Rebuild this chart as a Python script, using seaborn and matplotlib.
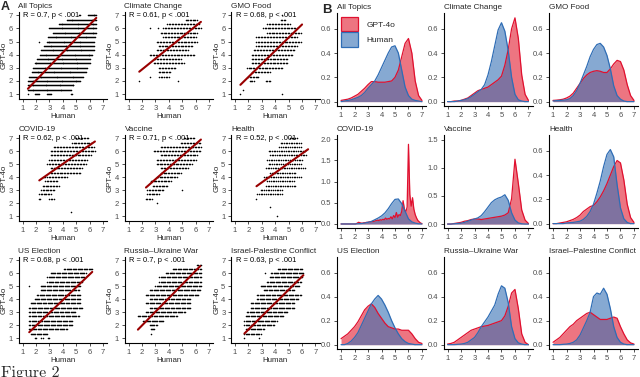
import numpy as np
import pandas as pd
import matplotlib
matplotlib.use("Agg")
import matplotlib.pyplot as plt
import matplotlib.colors as mcolors
from matplotlib.patches import Patch
import seaborn as sns

sns.set_theme(style="ticks")
plt.rcParams["font.family"] = ["Liberation Sans", "DejaVu Sans"]

# ---------------------------------------------------------------- data
scatter_titles = ["All Topics", "Climate Change", "GMO Food", "COVID-19", "Vaccine",
                  "Health", "US Election", "Russia\u2013Ukraine War", "Israel-Palestine Conflict"]
density_titles = ["All Topics", "Climate Change", "GMO Food", "COVID-19", "Vaccine",
                  "Health", "US Election", "Russia\u2013Ukraine War", "Israel\u2013Palestine Conflict"]
r_labels = ["R = 0.7, p < .001", "R = 0.61, p < .001", "R = 0.68, p < .001",
            "R = 0.62, p < .001", "R = 0.71, p < .001", "R = 0.52, p < .001",
            "R = 0.68, p < .001", "R = 0.7, p < .001", "R = 0.63, p < .001"]

# GPT-4o score levels (rows of dots), top to bottom
gpt_levels = [7.0, 6.67, 6.33, 6.0, 5.67, 5.33, 5.0, 4.67, 4.33, 4.0,
              3.67, 3.33, 3.0, 2.67, 2.33, 2.0, 1.67, 1.33, 1.0]

# Human-score runs of dots on each GPT-4o row (lo, hi)
rows_all = [[(5.2, 5.3), (5.9, 6.5)], [(4.3, 6.5)], [(3.7, 6.5)], [(3.0, 6.5)], [(3.3, 6.5)],
            [(2.9, 6.4)], [(2.2, 2.2), (2.8, 6.3)], [(2.6, 6.3)], [(2.4, 6.3)], [(2.3, 6.2)],
            [(2.1, 6.0)], [(1.9, 6.0)], [(1.8, 5.8)], [(1.7, 5.7)], [(1.5, 5.5)],
            [(1.4, 5.3)], [(1.4, 4.8)], [(1.4, 4.6)], [(1.4, 1.4), (1.9, 2.2), (2.8, 3.1), (4.6, 4.7)]]
rows_climate = [[], [(5.25, 6.1)], [(3.9, 6.25)], [(2.6, 2.6), (3.2, 3.2), (3.6, 6.4)], [(3.4, 6.1)],
                [(3.6, 6.0)], [(3.1, 6.1)], [(3.25, 5.75)], [(3.1, 5.4)], [(2.6, 5.9)],
                [(2.9, 4.9)], [(2.9, 5.1)], [(3.25, 4.5)], [(3.25, 4.1)], [(2.6, 2.6), (3.3, 4.0)],
                [(1.8, 1.8), (4.7, 4.7)], [], [], []]
rows_gmo = [[(4.5, 4.5)], [(4.4, 4.75)], [(3.4, 5.1)], [(3.1, 5.6)], [(3.4, 5.9)],
            [(2.6, 5.6)], [(2.6, 5.9)], [(2.6, 5.6)], [(2.4, 5.4)], [(2.25, 5.25)],
            [(2.25, 4.9)], [(2.25, 4.9)], [(1.9, 4.5)], [(2.25, 3.6)], [(2.0, 2.75)],
            [(2.1, 2.4), (3.3, 3.6)], [], [(1.6, 1.6)], [(1.4, 1.4), (4.5, 4.5)]]
rows_covid = [[(5.0, 5.9)], [(4.7, 6.1)], [(3.35, 6.3)], [(3.1, 6.4)], [(3.1, 6.1)],
              [(3.0, 5.8)], [(2.85, 5.7)], [(3.1, 5.4)], [(3.1, 5.3)], [(2.6, 4.3)],
              [(2.7, 3.6)], [(2.5, 3.7)], [(2.4, 3.35)], [(2.25, 3.1)], [(2.2, 2.3), (3.0, 3.35)],
              [], [], [(4.65, 4.65)], []]
rows_vaccine = [[(5.1, 5.9)], [(4.9, 6.35)], [(3.4, 6.4)], [(2.9, 6.35)], [(3.4, 6.1)],
                [(3.1, 6.0)], [(3.1, 5.7)], [(3.4, 5.4)], [(3.4, 4.9)], [(3.1, 4.6)],
                [(2.65, 4.15)], [(2.8, 3.9)], [(2.4, 3.6), (5.0, 5.0)], [(2.4, 3.25)], [(2.3, 2.75)],
                [(3.1, 3.1)], [], [], []]
rows_health = [[(5.1, 5.6)], [(4.4, 5.9)], [(4.3, 5.9)], [(3.5, 6.2)], [(3.6, 6.3)],
               [(3.4, 6.0)], [(3.5, 5.9)], [(3.3, 6.2)], [(3.6, 5.5)], [(3.15, 5.9)],
               [(3.4, 5.4)], [(3.3, 5.5)], [(2.9, 4.5)], [(2.65, 4.5)], [(2.6, 2.6)],
               [], [(3.6, 3.6)], [], [(4.1, 4.1)]]
rows_us = [[], [], [(4.1, 6.2)], [(3.1, 5.7)], [(2.85, 5.6)],
           [(2.85, 5.4)], [(1.5, 1.5), (2.35, 5.3)], [(2.35, 5.2)], [(2.1, 5.3)], [(1.9, 5.3)],
           [(1.6, 5.3)], [(1.5, 5.45)], [(1.5, 4.95)], [(1.5, 5.2)], [(1.5, 4.7)],
           [(1.5, 4.7)], [(1.5, 4.3)], [(1.6, 2.85)], [(1.9, 2.0), (2.4, 2.5), (2.9, 3.0)]]
rows_russia = [[], [(6.1, 6.4)], [(4.3, 6.4)], [(3.8, 6.4)], [(3.3, 6.4)],
               [(3.3, 6.4)], [(3.0, 6.4)], [(2.6, 6.35)], [(2.3, 6.2)], [(2.6, 5.6)],
               [(2.3, 5.6)], [(2.6, 5.6)], [(2.3, 5.2)], [(1.7, 4.6)], [(2.1, 3.6)],
               [(2.6, 3.1)], [(2.65, 2.9)], [(2.65, 2.65)], []]
rows_israel = [[], [], [(4.2, 6.0)], [(3.2, 3.2), (3.7, 6.1)], [(3.6, 6.0)],
               [(3.4, 5.9)], [(2.9, 5.8)], [(3.15, 5.4)], [(2.65, 5.9)], [(2.65, 5.7)],
               [(2.2, 5.4)], [(2.2, 5.4)], [(1.9, 4.9)], [(1.8, 4.6)], [(1.7, 4.1)],
               [(1.7, 3.9)], [(1.8, 3.15)], [(1.7, 2.9)], [(1.7, 1.7), (2.8, 2.8)]]
scatter_rows = [rows_all, rows_climate, rows_gmo, rows_covid, rows_vaccine,
                rows_health, rows_us, rows_russia, rows_israel]
# spacing between neighbouring dots within a run (human-score resolution)
dot_spacing = [0.07, 0.11, 0.11, 0.11, 0.11, 0.13, 0.09, 0.09, 0.09]

# regression line end points (x0, y0, x1, y1)
fit_lines = [(1.4, 1.4, 6.5, 6.8), (1.8, 2.7, 6.4, 6.5), (1.4, 1.7, 6.0, 6.3),
             (2.25, 3.75, 6.4, 6.75), (2.3, 3.2, 6.4, 6.9), (2.6, 3.3, 6.45, 6.15),
             (1.5, 1.45, 6.2, 6.1), (1.7, 1.65, 6.35, 6.55), (1.7, 1.35, 6.1, 5.85)]

# density curves
x_q = [1.0, 1.25, 1.5, 1.75, 2.0, 2.25, 2.5, 2.75, 3.0, 3.25, 3.5, 3.75, 4.0,
       4.25, 4.5, 4.75, 5.0, 5.25, 5.5, 5.75, 6.0, 6.25, 6.5, 6.75, 7.0]
x_fine = list(np.round(np.linspace(1.0, 7.0, 61), 2))

gpt_all = [0.01, 0.015, 0.02, 0.03, 0.045, 0.06, 0.085, 0.11, 0.14, 0.165, 0.165, 0.16, 0.16,
           0.16, 0.165, 0.17, 0.20, 0.26, 0.37, 0.48, 0.52, 0.40, 0.17, 0.05, 0.01]
hum_all = [0.0, 0.005, 0.01, 0.015, 0.025, 0.035, 0.05, 0.075, 0.11, 0.14, 0.17, 0.22, 0.28,
           0.34, 0.40, 0.45, 0.46, 0.40, 0.26, 0.12, 0.05, 0.02, 0.01, 0.005, 0.0]
gpt_climate = [0.0, 0.0, 0.005, 0.005, 0.01, 0.02, 0.03, 0.05, 0.07, 0.09, 0.10, 0.11, 0.12,
               0.14, 0.16, 0.18, 0.21, 0.30, 0.43, 0.60, 0.69, 0.52, 0.22, 0.06, 0.01]
hum_climate = [0.0, 0.0, 0.0, 0.005, 0.01, 0.015, 0.025, 0.04, 0.06, 0.08, 0.10, 0.14, 0.22,
               0.33, 0.46, 0.59, 0.65, 0.58, 0.42, 0.20, 0.06, 0.015, 0.005, 0.0, 0.0]
gpt_gmo = [0.01, 0.012, 0.015, 0.02, 0.03, 0.045, 0.07, 0.11, 0.15, 0.19, 0.22, 0.24, 0.25,
           0.255, 0.25, 0.24, 0.24, 0.27, 0.31, 0.34, 0.33, 0.26, 0.14, 0.05, 0.01]
hum_gmo = [0.005, 0.008, 0.01, 0.012, 0.015, 0.025, 0.05, 0.09, 0.15, 0.22, 0.29, 0.37, 0.43,
           0.47, 0.48, 0.45, 0.38, 0.27, 0.13, 0.05, 0.02, 0.005, 0.0, 0.0, 0.0]
gpt_covid = [0.0] * 12 + [
    0.02, 0.04, 0.03, 0.02, 0.02, 0.03, 0.03, 0.04, 0.04, 0.05,
    0.05, 0.06, 0.06, 0.07, 0.08, 0.09, 0.08, 0.10, 0.09, 0.11,
    0.10, 0.14, 0.11, 0.13, 0.12, 0.17, 0.12, 0.20, 0.15, 0.27,
    0.16, 0.22, 0.20, 0.30, 0.55, 0.35, 0.28, 0.40, 1.88, 0.70,
    0.42, 0.62, 0.35, 0.22, 0.14, 0.08, 0.05, 0.02, 0.01]
hum_covid = [0.0, 0.0, 0.0, 0.0, 0.0, 0.005, 0.01, 0.02, 0.04, 0.06, 0.10, 0.14, 0.19,
             0.26, 0.36, 0.48, 0.58, 0.59, 0.48, 0.30, 0.12, 0.05, 0.02, 0.005, 0.0]
gpt_vaccine = [0.0, 0.0, 0.01, 0.02, 0.03, 0.05, 0.06, 0.08, 0.09, 0.09, 0.08, 0.09, 0.10,
               0.11, 0.12, 0.13, 0.14, 0.16, 0.20, 0.45, 1.15, 0.72, 0.25, 0.07, 0.01]
hum_vaccine = [0.0, 0.0, 0.005, 0.01, 0.015, 0.03, 0.05, 0.07, 0.09, 0.11, 0.15, 0.22, 0.30,
               0.38, 0.43, 0.46, 0.48, 0.52, 0.42, 0.20, 0.07, 0.02, 0.005, 0.0, 0.0]
gpt_health = [0.0, 0.0, 0.005, 0.01, 0.015, 0.025, 0.035, 0.05, 0.07, 0.10, 0.12, 0.14, 0.15,
              0.18, 0.22, 0.27, 0.33, 0.40, 0.47, 0.52, 0.50, 0.36, 0.16, 0.05, 0.01]
hum_health = [0.0, 0.0, 0.0, 0.0, 0.005, 0.008, 0.01, 0.015, 0.02, 0.035, 0.06, 0.10, 0.16,
              0.25, 0.35, 0.47, 0.57, 0.61, 0.55, 0.32, 0.13, 0.04, 0.01, 0.0, 0.0]
gpt_us = [0.05, 0.07, 0.09, 0.12, 0.15, 0.19, 0.24, 0.29, 0.32, 0.34, 0.31, 0.26, 0.22,
          0.18, 0.15, 0.14, 0.13, 0.13, 0.12, 0.12, 0.12, 0.09, 0.05, 0.02, 0.01]
hum_us = [0.0, 0.0, 0.01, 0.03, 0.06, 0.10, 0.16, 0.22, 0.28, 0.34, 0.38, 0.41, 0.38,
          0.33, 0.27, 0.20, 0.14, 0.09, 0.05, 0.025, 0.01, 0.005, 0.0, 0.0, 0.0]
gpt_russia = [0.005, 0.01, 0.02, 0.04, 0.06, 0.08, 0.10, 0.12, 0.13, 0.14, 0.15, 0.155, 0.16,
              0.17, 0.18, 0.19, 0.20, 0.24, 0.32, 0.43, 0.46, 0.30, 0.09, 0.02, 0.0]
hum_russia = [0.0, 0.0, 0.0, 0.003, 0.005, 0.01, 0.02, 0.04, 0.06, 0.10, 0.15, 0.19, 0.23,
              0.28, 0.33, 0.42, 0.49, 0.47, 0.35, 0.15, 0.05, 0.015, 0.005, 0.0, 0.0]
gpt_israel = [0.02, 0.04, 0.06, 0.09, 0.12, 0.15, 0.17, 0.20, 0.22, 0.24, 0.26, 0.27, 0.25,
              0.23, 0.21, 0.21, 0.21, 0.22, 0.23, 0.22, 0.15, 0.09, 0.04, 0.015, 0.005]
hum_israel = [0.0, 0.0, 0.0, 0.003, 0.005, 0.01, 0.02, 0.04, 0.08, 0.14, 0.20, 0.27, 0.40,
              0.43, 0.42, 0.47, 0.42, 0.30, 0.15, 0.06, 0.02, 0.005, 0.0, 0.0, 0.0]

gpt_curves = [(x_q, gpt_all), (x_q, gpt_climate), (x_q, gpt_gmo), (x_fine, gpt_covid),
              (x_q, gpt_vaccine), (x_q, gpt_health), (x_q, gpt_us), (x_q, gpt_russia),
              (x_q, gpt_israel)]
hum_curves = [hum_all, hum_climate, hum_gmo, hum_covid, hum_vaccine, hum_health,
              hum_us, hum_russia, hum_israel]
density_yticks = [[0.0, 0.2, 0.4, 0.6]] * 3 + [[0.0, 0.5, 1.0, 1.5, 2.0], [0.0, 0.5, 1.0, 1.5],
                                               [0.0, 0.2, 0.4, 0.6]] + [[0.0, 0.2, 0.4, 0.6]] * 3
density_ylims = [(-0.036, 0.73)] * 3 + [(-0.095, 2.1), (-0.07, 1.58), (-0.036, 0.73)] + [(-0.036, 0.73)] * 3

# ---------------------------------------------------------------- style
RED_LINE, RED_FILL = "#E0102F", "#E1192D"
BLUE_LINE, BLUE_FILL = "#2F6DB5", "#3670B5"
FILL_ALPHA = 0.6
FIT_COLOR = "#990000"
TICK_FS, TITLE_FS, LAB_FS = 5.5, 5.9, 5.7

W, H = 640, 377
fig = plt.figure(figsize=(6.4, 3.77), dpi=100)


def ax_px(left, top, width, bottom):
    return fig.add_axes([left / W, 1 - bottom / H, width / W, (bottom - top) / H])


def style_axis(ax):
    sns.despine(ax=ax)
    for s in ("left", "bottom"):
        ax.spines[s].set_color("black")
        ax.spines[s].set_linewidth(0.8)
    ax.tick_params(axis="both", length=2.2, width=0.6, color="#333333",
                   labelcolor="#4D4D4D", labelsize=TICK_FS, pad=1.8)


sc_lefts = [18.5, 124.5, 231]
sc_rows = [(12, 99), (135, 221), (257, 343)]
de_lefts = [337, 443.5, 549]
de_rows = [(13, 106), (135, 228), (257, 349)]

for i in range(9):
    r, c = divmod(i, 3)
    # ------------------------------------------------ scatter panel
    ax = ax_px(sc_lefts[c], sc_rows[r][0], 88.5, sc_rows[r][1])
    xs, ys = [], []
    for lvl, segs in zip(gpt_levels, scatter_rows[i]):
        for lo, hi in segs:
            n = max(1, int(round((hi - lo) / dot_spacing[i])) + 1)
            for xv in np.linspace(lo, hi, n):
                xs.append(xv)
                ys.append(lvl)
    df = pd.DataFrame({"Human": xs, "GPT-4o": ys})
    sns.scatterplot(data=df, x="Human", y="GPT-4o", ax=ax, color="black",
                    s=1.3, marker="o", linewidth=0)
    x0, y0, x1, y1 = fit_lines[i]
    sns.lineplot(x=[x0, x1], y=[y0, y1], ax=ax, color=FIT_COLOR, lw=1.5)
    ax.text(1.05, 7.0, r_labels[i], fontsize=5.4, ha="left", va="center", color="black")
    ax.set_xlim(0.7, 7.3)
    ax.set_ylim(0.62, 7.25)
    ax.set_xticks(range(1, 8))
    ax.set_yticks(range(1, 8))
    style_axis(ax)
    ax.set_xlabel("Human", fontsize=LAB_FS, labelpad=0.8)
    ax.set_ylabel("GPT-4o", fontsize=LAB_FS, labelpad=0.5)
    ax.set_title(scatter_titles[i], loc="left", fontsize=TITLE_FS, pad=3)

    # ------------------------------------------------ density panel
    ax = ax_px(de_lefts[c], de_rows[r][0], 89, de_rows[r][1])
    gx, gy = gpt_curves[i]
    ax.fill_between(gx, gy, 0, color=RED_FILL, alpha=FILL_ALPHA, lw=0)
    ax.fill_between(x_q, hum_curves[i], 0, color=BLUE_FILL, alpha=FILL_ALPHA, lw=0)
    sns.lineplot(x=gx, y=gy, ax=ax, color=RED_LINE, lw=0.9)
    sns.lineplot(x=x_q, y=hum_curves[i], ax=ax, color=BLUE_LINE, lw=0.9)
    ax.set_xlim(0.7, 7.3)
    ax.set_ylim(*density_ylims[i])
    ax.set_xticks(range(1, 8))
    ax.set_yticks(density_yticks[i])
    ax.set_yticklabels([f"{v:.1f}" for v in density_yticks[i]])
    style_axis(ax)
    ax.set_xlabel("")
    ax.set_ylabel("")
    ax.set_title(density_titles[i], loc="left", fontsize=TITLE_FS, pad=3)
    if i == 0:
        handles = [Patch(facecolor=mcolors.to_rgba(RED_FILL, FILL_ALPHA), edgecolor=RED_LINE, lw=0.9),
                   Patch(facecolor=mcolors.to_rgba(BLUE_FILL, FILL_ALPHA), edgecolor=BLUE_LINE, lw=0.9)]
        ax.legend(handles, ["GPT-4o", "Human"], loc="upper left", bbox_to_anchor=(0.05, 0.96),
                  frameon=False, fontsize=6.0, handlelength=2.0, handleheight=2.3,
                  labelspacing=0.15, handletextpad=1.0, borderaxespad=0, borderpad=0)

fig.text(5 / W, 1 - 7.5 / H, "A", fontsize=9, fontweight="bold", ha="center", va="center")
fig.text(327 / W, 1 - 10 / H, "B", fontsize=9.5, fontweight="bold", ha="center", va="center")
fig.text(1 / W, -0.5 / H, "Figure 2", fontsize=11.5, family="cmr10", ha="left", va="baseline")

fig.savefig("out.png", dpi=100)
